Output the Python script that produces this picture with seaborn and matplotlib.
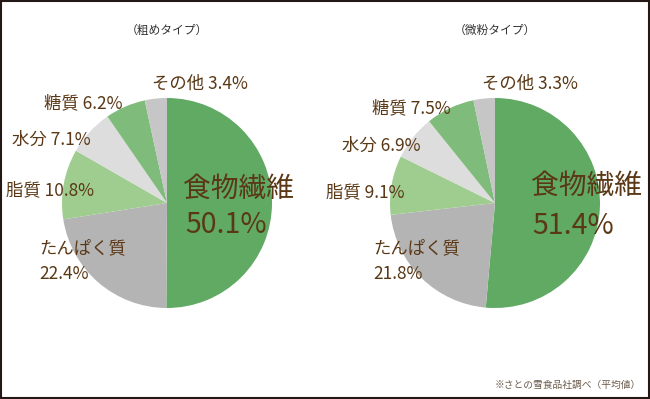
import matplotlib
matplotlib.use("Agg")
import matplotlib.pyplot as plt
import seaborn as sns
from matplotlib.patches import Rectangle

# =====================================================
# Data
# =====================================================
components = ["食物繊維", "たんぱく質", "脂質", "水分", "糖質", "その他"]
rough_values = [50.1, 22.4, 10.8, 7.1, 6.2, 3.4]
fine_values = [51.4, 21.8, 9.1, 6.9, 7.5, 3.3]
titles = ["（粗めタイプ）", "（微粉タイプ）"]
footnote = "※さとの雪食品社調べ（平均値）"

# =====================================================
# Style
# =====================================================
sns.set_theme(style="white")
plt.rcParams["font.family"] = ["Noto Sans CJK JP", "DejaVu Sans"]

palette = sns.color_palette(
    ["#60aa64", "#b4b4b4", "#9fcd90", "#dddddd", "#7fbb7a", "#c6c6c6"]
)
TEXT = "#5a3816"

# label offsets (in pie radius units) per chart
layouts = [
    {"big": (0.68, 0.13), "pct": (0.56, -0.21),
     "その他": (0.31, 1.14), "糖質": (-0.80, 0.95), "水分": (-1.10, 0.60),
     "脂質": (-1.11, 0.12), "たんぱく質": (-1.22, -0.43)},
    {"big": (0.87, 0.16), "pct": (0.74, -0.22),
     "その他": (0.33, 1.14), "糖質": (-0.80, 0.90), "水分": (-1.08, 0.54),
     "脂質": (-1.24, 0.10), "たんぱく質": (-1.16, -0.43)},
]

W, H = 650, 399
R = 105
centers = [(167, 203), (495, 203)]

fig = plt.figure(figsize=(W / 100, H / 100), dpi=100)
fig.patch.set_facecolor("white")


def draw_pie(cx, cy, values, title, lay):
    ax = fig.add_axes([(cx - R) / W, (H - cy - R) / H, 2 * R / W, 2 * R / H])
    ax.pie(values, colors=palette, startangle=90, counterclock=False,
           radius=1.0, wedgeprops=dict(linewidth=0))
    ax.set_xlim(-1, 1)
    ax.set_ylim(-1, 1)
    ax.set_aspect("auto")
    ax.axis("off")

    # main component
    ax.text(*lay["big"], components[0], ha="center", va="center",
            fontsize=20, color=TEXT)
    ax.text(*lay["pct"], f"{values[0]}%", ha="center", va="center",
            fontsize=20.5, color=TEXT)

    # protein: two lines, left aligned
    x, y = lay["たんぱく質"]
    ax.text(x, y, components[1], ha="left", va="center", fontsize=12.5, color=TEXT)
    ax.text(x, y - 0.25, f"{values[1]}%", ha="left", va="center",
            fontsize=12.5, color=TEXT)

    for name, v in zip(components[2:], values[2:]):
        ax.text(*lay[name], f"{name} {v}%", ha="center", va="center",
                fontsize=12.5, color=TEXT)

    fig.text(cx / W, 1 - 30 / H, title, ha="center", va="center",
             fontsize=8.5, color="#333333")


for (cx, cy), vals, t, lay in zip(centers, [rough_values, fine_values], titles, layouts):
    draw_pie(cx, cy, vals, t, lay)

fig.text(641 / W, 1 - 385 / H, footnote, ha="right", va="center",
         fontsize=7, color="#6b5a4a")

fig.patches.append(Rectangle((0.0015, 0.0025), 0.997, 0.995, transform=fig.transFigure,
                             fill=False, edgecolor="#231815", linewidth=1.5))

fig.savefig("out.png", dpi=100, facecolor="white")
